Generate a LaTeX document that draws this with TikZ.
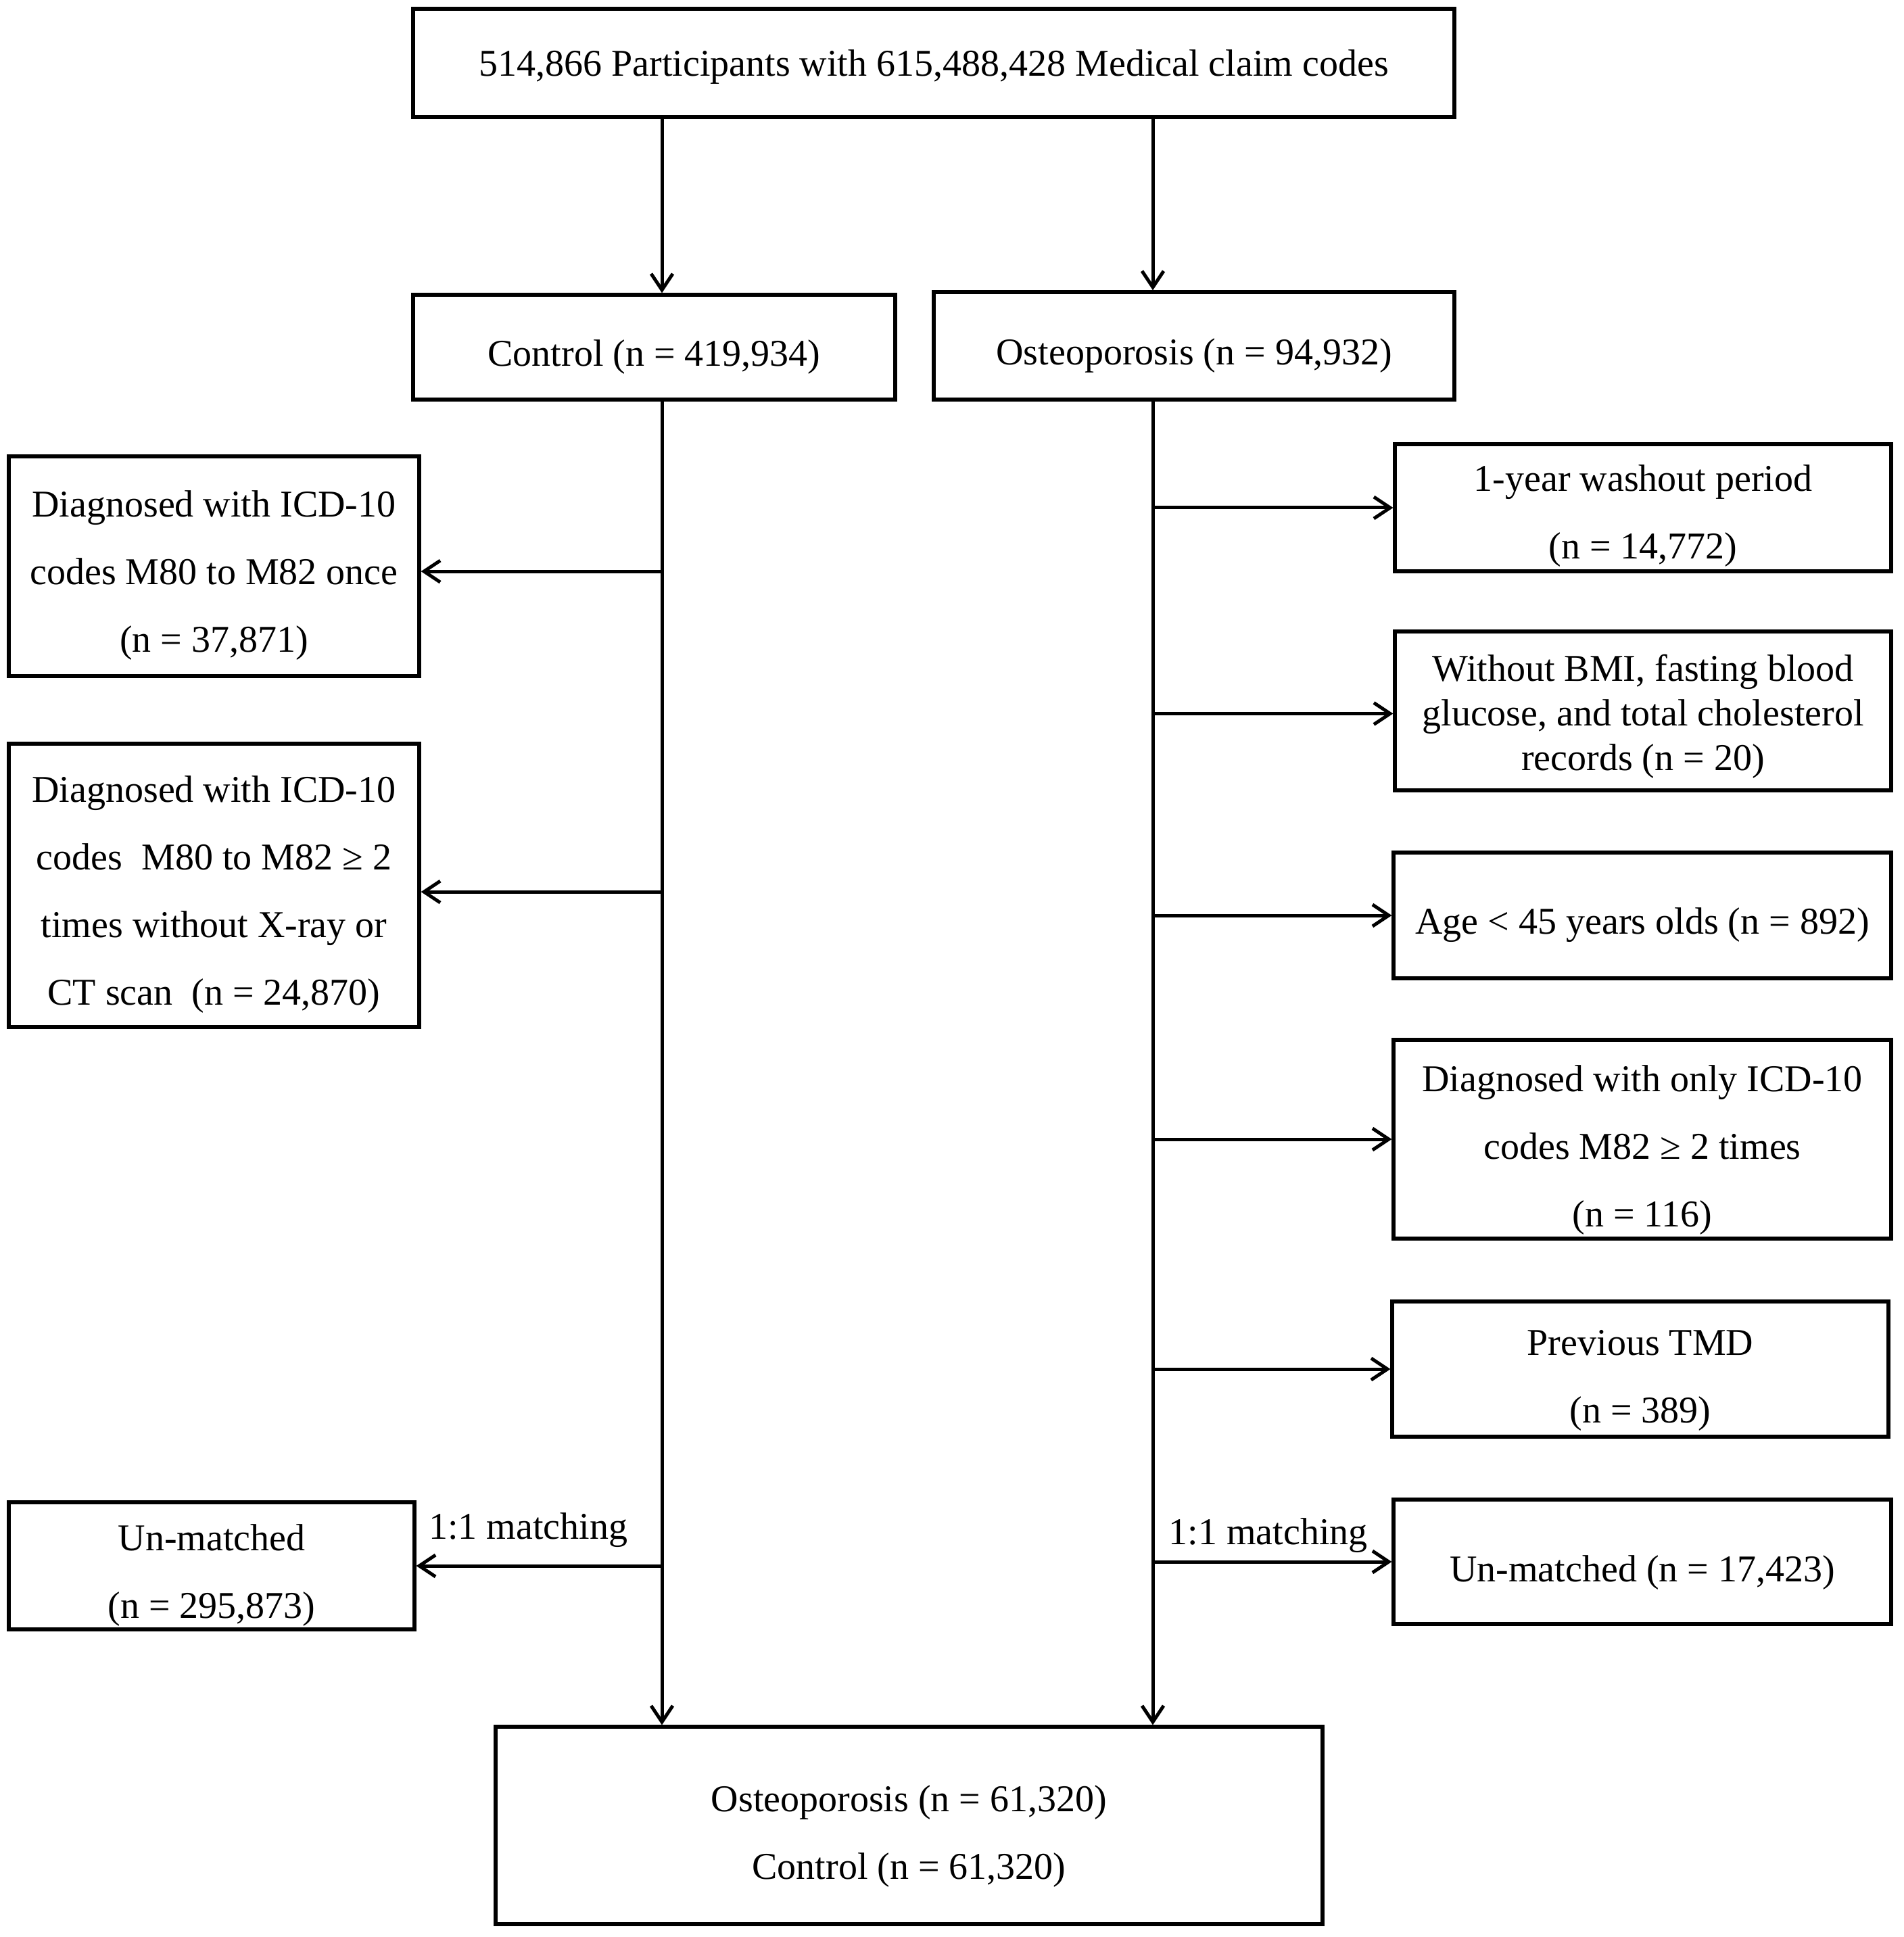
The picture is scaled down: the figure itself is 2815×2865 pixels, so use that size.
\documentclass[tikz,border=0pt]{standalone}
\usepackage{fontspec}
\setmainfont{Liberation Serif}
\usetikzlibrary{arrows.meta}
\tikzset{
  px/.style={x=0.25pt,y=-0.25pt},
  box/.style 2 args={draw, rectangle, line width=1.3pt, inner sep=0pt,
    minimum width=#1*0.25pt, minimum height=#2*0.25pt},
  txt/.style={font=\fontsize{14}{25}\selectfont, align=center, inner sep=0pt},
  tighttxt/.style={font=\fontsize{14}{16.5}\selectfont, align=center, inner sep=0pt},
  lab/.style 2 args={label={[txt, yshift=#1pt]center:{#2}}},
  labtight/.style 2 args={label={[tighttxt, yshift=#1pt]center:{#2}}},
  arr/.style={line width=1.25pt, -{Straight Barb[length=6pt,width=8pt,line width=1.25pt]}},
  lbl/.style={font=\fontsize{14}{16}\selectfont, inner sep=0pt}
}
\begin{document}
\begin{tikzpicture}[px]
\useasboundingbox (0,0) rectangle (2815,2865);
\coordinate (cl) at (979,0);
\coordinate (cr) at (1705,0);

\node[box={1540}{160}, lab={-1.4}{514,866 Participants with 615,488,428 Medical claim codes}] (top) at (1381,93) {};
\node[box={713}{155}, lab={-3.6}{Control (n = 419,934)}] (ctrl) at (967.5,513.5) {};
\node[box={770}{159}, lab={-3.6}{Osteoporosis (n = 94,932)}] (osteo) at (1766,511.5) {};

\node[box={607}{325}, lab={-3.4}{Diagnosed with ICD-10\\codes M80 to M82 once\\(n = 37,871)}] (L1) at (316.5,837.5) {};
\node[box={607}{419}, lab={-3.4}{Diagnosed with ICD-10\\codes~ M80 to M82 ≥ 2\\times without X-ray or\\CT scan~ (n = 24,870)}] (L2) at (316.5,1309.5) {};
\node[box={600}{188}, lab={-3.6}{Un-matched\\(n = 295,873)}] (L3) at (313,2316) {};

\node[box={734}{188}, lab={-3.0}{1-year washout period\\(n = 14,772)}] (R1) at (2430,751) {};
\node[box={734}{235}, labtight={-2.0}{Without BMI, fasting blood\\glucose, and total cholesterol\\records (n = 20)}] (R2) at (2430,1051.5) {};
\node[box={736}{186}, lab={-3.6}{Age < 45 years olds (n = 892)}] (R3) at (2429,1354) {};
\node[box={736}{294}, lab={-3.9}{Diagnosed with only ICD-10\\codes M82 ≥ 2 times\\(n = 116)}] (R4) at (2429,1685) {};
\node[box={734}{200}, lab={-4.3}{Previous TMD\\(n = 389)}] (R5) at (2426,2025) {};
\node[box={736}{184}, lab={-4.1}{Un-matched (n = 17,423)}] (R6) at (2429,2310) {};

\node[box={1223}{292}, lab={-3.9}{Osteoporosis (n = 61,320)\\Control (n = 61,320)}] (final) at (1344.5,2700) {};

\draw[arr] (top.south -| cl) -- (ctrl.north -| cl);
\draw[arr] (top.south -| cr) -- (osteo.north -| cr);
\draw[arr] (ctrl.south -| cl) -- (final.north -| cl);
\draw[arr] (osteo.south -| cr) -- (final.north -| cr);

\draw[arr] ([yshift=-1.9pt]L1.east -| cl) -- ([yshift=-1.9pt]L1.east);
\draw[arr] ([yshift=-2.4pt]L2.east -| cl) -- ([yshift=-2.4pt]L2.east);
\draw[arr] (cl |- L3.east) -- node[lbl, midway, yshift=13.2pt, xshift=-4pt] {1:1 matching} (L3.east);

\draw[arr] (cr |- R1.west) -- (R1.west);
\draw[arr] ([yshift=-1pt]R2.west -| cr) -- ([yshift=-1pt]R2.west);
\draw[arr] (cr |- R3.west) -- (R3.west);
\draw[arr] (cr |- R4.west) -- (R4.west);
\draw[arr] (cr |- R5.west) -- (R5.west);
\draw[arr] (cr |- R6.west) -- node[lbl, midway, yshift=9.8pt, xshift=-1.5pt] {1:1 matching} (R6.west);
\end{tikzpicture}
\end{document}
